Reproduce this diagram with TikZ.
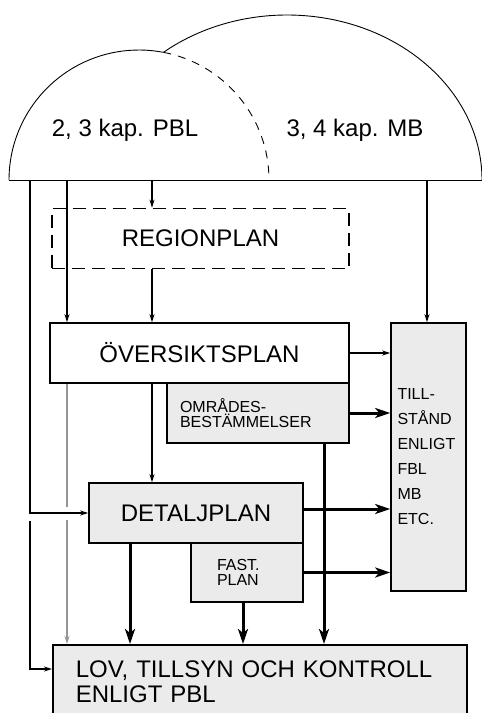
\documentclass[tikz,border=0pt]{standalone}
\usepackage{fontspec}
\setmainfont{Liberation Sans}
\usetikzlibrary{arrows.meta}

\definecolor{boxgray}{RGB}{235,235,235}
\definecolor{linegray}{RGB}{150,150,150}

\tikzset{
  plan/.style={draw,line width=1.6pt,inner sep=0pt,minimum height=60pt},
  grayplan/.style={plan,fill=boxgray},
  smalltext/.style={font=\fontsize{16}{15.5}\selectfont,align=left},
  lightarrow/.style={line width=1.2pt,-{Stealth[length=8pt,width=5pt]}},
  heavyarrow/.style={line width=3pt,-{Stealth[length=15pt,width=10pt,inset=4pt]}},
}

\begin{document}
\begin{tikzpicture}[x=1pt,y=1pt,font=\fontsize{24}{25}\selectfont]
\useasboundingbox (0,0) rectangle (482,-713);

% the two law domes
\draw[line width=0.9pt] (9,-180) arc[start angle=180,end angle=79.2,radius=130] coordinate (meet);
\draw[line width=0.9pt,dash pattern=on 8pt off 7pt] (meet) arc[start angle=79.2,end angle=0,radius=130];
\draw[line width=0.9pt] (482,-180) arc[start angle=0,end angle=129.3,x radius=195,y radius=165];
\draw[line width=0.9pt] (9,-180) -- (482,-180);
\node (pbl) at (125,-130) {2, 3 kap. PBL};
\node (mb) at (355,-130) {3, 4 kap. MB};

% plans
\node[plan,dash pattern=on 13pt off 7pt,minimum width=297pt] (region) at (200.5,-238.5) {REGIONPLAN};
\node[plan,fill=white,minimum width=299pt] (oversikt) at (199.5,-353) {ÖVERSIKTSPLAN};
\node[grayplan,smalltext,text width=156pt,inner xsep=13pt] (omrade) at (258,-413) {OMRÅDES-\\BESTÄMMELSER};
\node[grayplan,smalltext,text width=62pt,inner xsep=6.5pt,minimum height=268pt,font=\fontsize{16}{25}\selectfont] (till) at (428.5,-457) {TILL-\\STÅND\\ENLIGT\\FBL\\MB\\ETC.};
\node[grayplan,minimum width=214pt] (detalj) at (196,-513) {DETALJPLAN};
\node[grayplan,smalltext,text width=60pt,inner xsep=26pt,minimum height=59pt] (fast) at (247,-572.5) {FAST.\\PLAN};
\node[grayplan,align=left,text width=368pt,inner xsep=23pt,minimum height=73pt,anchor=north west] (lov) at (52,-644) {LOV, TILLSYN OCH KONTROLL\\ENLIGT PBL};

% start points and columns
\coordinate (a1) at (30,-180);
\coordinate (a2) at (30,-521);
\coordinate (a3) at (67,-180);
\coordinate (a4) at (152,-180);
\coordinate (a5) at (427,-180);
\coordinate (g1) at (67,-507);
\coordinate (g2) at (67,-520);
\coordinate (d1) at (130,0);
\coordinate (d2) at (243,0);
\coordinate (d3) at (324,0);

% thin connectors
\draw[lightarrow] (a1) |- (detalj.west);
\draw[lightarrow] (a2) |- ([yshift=-25pt]lov.north west);
\draw[lightarrow] (a3) -- (a3 |- oversikt.north);
\draw[lightarrow] (a4) -- (a4 |- region.north);
\draw[lightarrow] (a4 |- region.south) -- (a4 |- oversikt.north);
\draw[lightarrow] (a4 |- oversikt.south) -- (a4 |- detalj.north);
\draw[lightarrow] (a5) -- (a5 |- till.north);
\draw[lightarrow] (oversikt.east) -- (oversikt.east -| till.west);
\draw[linegray,line width=1.2pt] (a3 |- oversikt.south) -- (g1);
\draw[lightarrow,linegray] (g2) -- (a3 |- lov.north);

% heavy connectors
\draw[heavyarrow] (omrade.east) -- (omrade.east -| till.west);
\draw[heavyarrow] ([yshift=4pt]detalj.east) -- ([yshift=4pt]detalj.east -| till.west);
\draw[heavyarrow] (fast.east) -- (fast.east -| till.west);
\draw[heavyarrow] (d1 |- detalj.south) -- (d1 |- lov.north);
\draw[heavyarrow] (d2 |- fast.south) -- (d2 |- lov.north);
\draw[heavyarrow] (d3 |- omrade.south) -- (d3 |- lov.north);
\end{tikzpicture}
\end{document}
